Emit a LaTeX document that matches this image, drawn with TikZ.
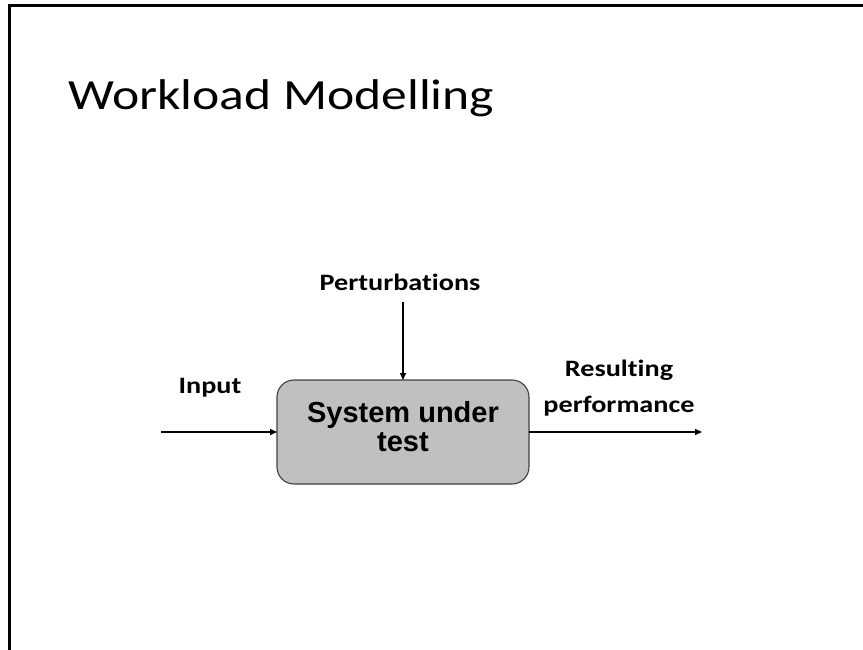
\documentclass[tikz,border=0pt]{standalone}
\usepackage{fontspec}
\usetikzlibrary{arrows.meta}
\newfontfamily\titlefont[FakeStretch=1.2, Ligatures=NoCommon]{Carlito}
\newfontfamily\sysfont{Liberation Sans}
\definecolor{boxfill}{HTML}{C0C0C0}
\definecolor{boxline}{HTML}{404040}
\tikzset{
  lbl/.style={anchor=base, inner sep=0pt, font=\titlefont\bfseries\fontsize{23.5}{28}\selectfont},
  sutbox/.style={draw=boxline, fill=boxfill, line width=1.1pt, rounded corners=17pt,
    minimum width=252pt, minimum height=104pt, outer sep=0pt, inner sep=0pt,
    align=center, text depth=11pt,
    font=\sysfont\bfseries\fontsize{29}{27}\selectfont},
  flow/.style={line width=1.3pt, -{Triangle[length=7pt,width=6pt]}}
}
\begin{document}
\begin{tikzpicture}[x=1pt, y=-1pt]
  \useasboundingbox (0,0) rectangle (863,650);
  % slide frame (top and left edges)
  \draw[line width=3pt, line join=miter] (9,660) -- (9,6) -- (875,6);
  % title
  \node[anchor=base west, inner sep=0pt, font=\titlefont\fontsize{43}{50}\selectfont]
    (title) at (68,110) {Workload Modelling};
  % system block
  \node[sutbox] (sut) at (403,432) {System under\\[2pt]test};
  % labels
  \node[lbl] (pert) at (400,290) {Perturbations};
  \node[lbl] (inp) at (210,393) {Input};
  \node[lbl] (res1) at (619,376) {Resulting};
  \node[lbl] (res2) at (619,412) {performance};
  % connector ends
  \coordinate (pertS) at (403,302);
  \coordinate (inS) at (161,432);
  \coordinate (outE) at (702,432);
  % connectors
  \draw[flow] (pertS) -- (sut.north);
  \draw[flow] (inS) -- (sut.west);
  \draw[flow] (sut.east) -- (outE);
\end{tikzpicture}
\end{document}
